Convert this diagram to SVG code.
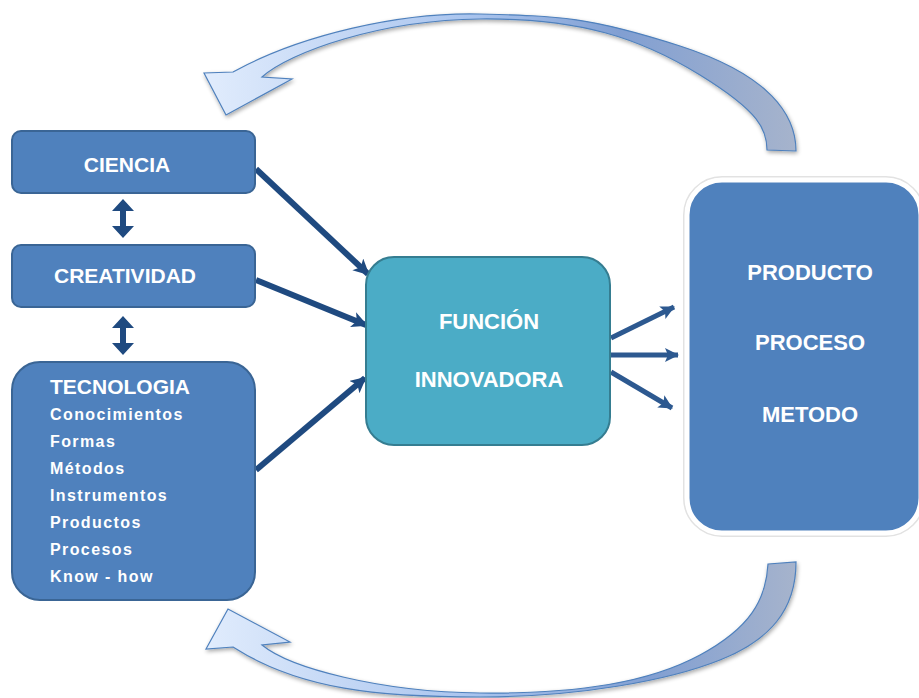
<svg xmlns="http://www.w3.org/2000/svg" width="919" height="698" viewBox="0 0 919 698">
<defs>
<linearGradient id="gTop" x1="200" y1="0" x2="800" y2="0" gradientUnits="userSpaceOnUse">
<stop offset="0" stop-color="#e2edfd"/>
<stop offset="0.45" stop-color="#a9c4ee"/>
<stop offset="0.7" stop-color="#819fd2"/>
<stop offset="1" stop-color="#a7b4cc"/>
</linearGradient>
<linearGradient id="gBot" x1="200" y1="0" x2="800" y2="0" gradientUnits="userSpaceOnUse">
<stop offset="0" stop-color="#e2edfd"/>
<stop offset="0.45" stop-color="#a9c4ee"/>
<stop offset="0.75" stop-color="#819fd2"/>
<stop offset="1" stop-color="#a7b4cc"/>
</linearGradient>
<marker id="ahL" markerUnits="userSpaceOnUse" markerWidth="20" markerHeight="20" refX="14" refY="8" orient="auto">
<path d="M0,0 L16,8 L0,16 L4,8 Z" fill="#1f4a80"/>
</marker>
<marker id="ahR" markerUnits="userSpaceOnUse" markerWidth="20" markerHeight="20" refX="13" refY="7" orient="auto">
<path d="M0,0 L14,7 L0,14 L3,7 Z" fill="#2d5990"/>
</marker>
<filter id="sh" x="-10%" y="-10%" width="130%" height="130%">
<feGaussianBlur in="SourceAlpha" stdDeviation="2"/>
<feOffset dx="1" dy="2"/>
<feComponentTransfer><feFuncA type="linear" slope="0.35"/></feComponentTransfer>
<feMerge><feMergeNode/><feMergeNode in="SourceGraphic"/></feMerge>
</filter>
</defs>
<style>
.box{fill:#4f81bd;stroke:#3a6595;stroke-width:2}
.lbl{font-family:"Liberation Sans",Arial,sans-serif;font-weight:bold;fill:#ffffff}
.big{font-size:21px}
.med{font-size:22px}
.sub{font-size:16px;letter-spacing:1.4px}
.cl{fill:none;stroke:#1f4a80;stroke-width:6}
.cr{fill:none;stroke:#2d5990;stroke-width:5}
.curv{stroke:#4f81bd;stroke-width:1.2}
.dbl{fill:#1f4a80}
</style>

<g id="connectors">
<path class="curv" filter="url(#sh)" fill="url(#gTop)" d="M796,151 C796,115 770,75 680,46 S560,16 480,14 S300,35 233,72 L204,73 L226,115 L292,79 L262,77 C290,52 380,20 480,19 S640,38 700,75 S767,130 767,150 Z"/>
<path class="curv" filter="url(#sh)" fill="url(#gBot)" d="M768,564 L796,562 C796,610 770,640 720,660 S580,697 480,697 S300,690 233,647 L206,649 L228,609 L290,642 L262,645 C290,668 380,692 480,693 S650,682 700,655 S766,600 768,564 Z"/>
<line class="cl" x1="256" y1="169" x2="368" y2="274" marker-end="url(#ahL)"/>
<line class="cl" x1="256" y1="280" x2="366" y2="325" marker-end="url(#ahL)"/>
<line class="cl" x1="256" y1="470" x2="365" y2="378" marker-end="url(#ahL)"/>
<line class="cr" x1="611" y1="338" x2="674" y2="307" marker-end="url(#ahR)"/>
<line class="cr" x1="611" y1="355" x2="678" y2="355" marker-end="url(#ahR)"/>
<line class="cr" x1="611" y1="372" x2="672" y2="408" marker-end="url(#ahR)"/>
<polygon class="dbl" points="123,199 134,211 126,211 126,226 134,226 123,238 112,226 120,226 120,211 112,211"/>
<polygon class="dbl" points="123,316 134,328 126,328 126,343 134,343 123,355 112,343 120,343 120,328 112,328"/>
</g>

<g id="ciencia">
<rect class="box" x="12" y="131" width="243" height="62" rx="9"/>
<text class="lbl big" x="127" y="172" text-anchor="middle">CIENCIA</text>
</g>

<g id="creatividad">
<rect class="box" x="12" y="245" width="243" height="62" rx="9"/>
<text class="lbl big" x="125" y="283" text-anchor="middle">CREATIVIDAD</text>
</g>

<g id="tecnologia">
<rect class="box" x="12" y="362" width="243" height="238" rx="28"/>
<text class="lbl big" x="50" y="394">TECNOLOGIA</text>
<text class="lbl sub" x="50" y="420">Conocimientos</text>
<text class="lbl sub" x="50" y="447">Formas</text>
<text class="lbl sub" x="50" y="474">Métodos</text>
<text class="lbl sub" x="50" y="501">Instrumentos</text>
<text class="lbl sub" x="50" y="528">Productos</text>
<text class="lbl sub" x="50" y="555">Procesos</text>
<text class="lbl sub" x="50" y="582">Know - how</text>
</g>

<g id="funcion">
<rect x="366" y="257" width="244" height="188" rx="28" fill="#4bacc6" stroke="#357d91" stroke-width="2"/>
<text class="lbl med" x="489" y="329" text-anchor="middle">FUNCIÓN</text>
<text class="lbl med" x="489" y="387" text-anchor="middle">INNOVADORA</text>
</g>

<g id="resultado">
<rect x="684" y="177" width="240" height="359" rx="38" fill="none" stroke="#e2e2e2" stroke-width="2"/>
<rect x="687" y="180" width="234" height="353" rx="35" fill="#4f81bd" stroke="#ffffff" stroke-width="5"/>
<text class="lbl med" x="810" y="280" text-anchor="middle">PRODUCTO</text>
<text class="lbl med" x="810" y="350" text-anchor="middle">PROCESO</text>
<text class="lbl med" x="810" y="422" text-anchor="middle">METODO</text>
</g>
</svg>
